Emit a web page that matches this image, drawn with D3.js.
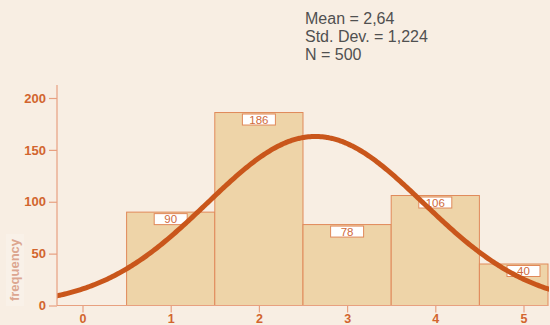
<!DOCTYPE html>
<html><head><meta charset="utf-8">
<script src="https://cdn.jsdelivr.net/npm/d3@7"></script>
<style>body{margin:0;background:#f8eee3;}svg{display:block;}</style>
</head><body>
<svg id="c" width="550" height="325"></svg>
<script>
const binCenters = [1, 2, 3, 4, 5];
const counts = [90, 186, 78, 106, 40];
const xTicks = [0, 1, 2, 3, 4, 5];
const yTicks = [0, 50, 100, 150, 200];
const mean = 2.64, sd = 1.224, n = 500, binWidth = 1;
const statLines = ["Mean = 2,64", "Std. Dev. = 1,224", "N = 500"];

const svg = d3.select("#c");
const x = d3.scaleLinear().domain([0, 5]).range([82.5, 523.5]);
const y = d3.scaleLinear().domain([0, 200]).range([305.5, 98]);
const pLeft = 57, pRight = 548, pTop = 85, pBottom = 305.5;

svg.append("rect").attr("width", 550).attr("height", 325).attr("fill", "#f8eee3");

svg.append("clipPath").attr("id", "clip").append("rect")
  .attr("x", pLeft).attr("y", 0).attr("width", pRight - pLeft + 1).attr("height", pBottom + 1);

const plot = svg.append("g").attr("clip-path", "url(#clip)");

// bars
const bars = binCenters.map((c, i) => ({c, v: counts[i]}));
plot.selectAll("rect.bar").data(bars).enter().append("rect")
  .attr("x", d => x(d.c - binWidth / 2))
  .attr("y", d => y(d.v))
  .attr("width", d => Math.min(x(d.c + binWidth / 2), pRight) - x(d.c - binWidth / 2))
  .attr("height", d => y(0) - y(d.v))
  .attr("fill", "#eed4a8").attr("stroke", "#e0895a").attr("stroke-width", 1);

// label boxes
const lg = plot.selectAll("g.lab").data(bars).enter().append("g");
lg.append("rect")
  .attr("x", d => x(d.c) - 16.5).attr("y", d => y(d.v) + 1.5)
  .attr("width", 33).attr("height", 11)
  .attr("fill", "#ffffff").attr("stroke", "#e0895a").attr("stroke-width", 1);
lg.append("text")
  .attr("x", d => x(d.c)).attr("y", d => y(d.v) + 11)
  .attr("text-anchor", "middle")
  .attr("font-family", "Liberation Sans, Arial, sans-serif").attr("font-size", 11.5)
  .attr("fill", "#cf6a3c").text(d => d.v);

// normal curve
const pts = d3.range(-0.5, 5.6, 0.02).map(v => [v, n * binWidth * Math.exp(-((v - mean) ** 2) / (2 * sd * sd)) / (sd * Math.sqrt(2 * Math.PI))]);
plot.append("path").datum(pts)
  .attr("d", d3.line().x(d => x(d[0])).y(d => y(d[1])).curve(d3.curveBasis))
  .attr("fill", "none").attr("stroke", "#c9561b").attr("stroke-width", 5).attr("stroke-linecap", "round");

// axes
const axisColor = "#e8a080";
const labColor = "#d2652e";
const yAxis = svg.append("g").attr("transform", `translate(${pLeft},0)`)
  .call(d3.axisLeft(y).tickValues(yTicks).tickFormat(d3.format("d")).tickSize(8).tickPadding(3));
yAxis.select(".domain").attr("d", `M0,${pTop}V${pBottom}`);
const xAxis = svg.append("g").attr("transform", `translate(0,${pBottom})`)
  .call(d3.axisBottom(x).tickValues(xTicks).tickFormat(d3.format("d")).tickSize(7).tickPadding(2));
xAxis.select(".domain").attr("d", `M${pLeft},0H${pRight}`);
[yAxis, xAxis].forEach(a => {
  a.selectAll("path,line").attr("stroke", axisColor).attr("stroke-width", 1.2);
  a.selectAll("text").attr("fill", labColor).attr("font-family", "Liberation Sans, Arial, sans-serif")
    .attr("font-size", 13).attr("font-weight", "bold");
});
xAxis.selectAll("text").attr("font-size", 12.5);

// y label
svg.append("rect").attr("x", 6).attr("y", 234).attr("width", 18).attr("height", 72).attr("fill", "#f9f1e8");
svg.append("text").attr("transform", "translate(19,270) rotate(-90)")
  .attr("text-anchor", "middle")
  .attr("font-family", "Liberation Sans, Arial, sans-serif").attr("font-size", 13).attr("font-weight", "bold")
  .attr("fill", "#dca690").text("frequency");

// stats
svg.append("g").selectAll("text").data(statLines).enter().append("text")
  .attr("x", 305).attr("y", (d, i) => 24 + i * 18)
  .attr("font-family", "Liberation Sans, Arial, sans-serif").attr("font-size", 16)
  .attr("fill", "#505050").text(d => d);
</script>
</body></html>
